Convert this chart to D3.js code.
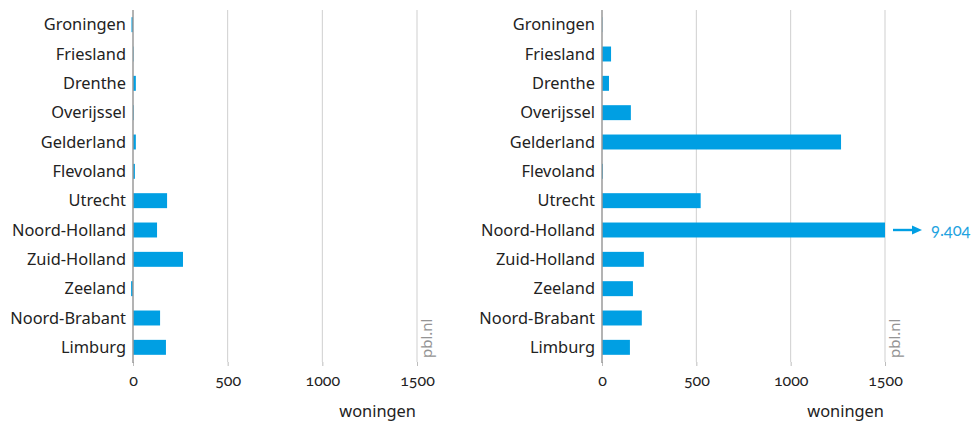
<!DOCTYPE html>
<html>
<head>
<meta charset="utf-8">
<script src="https://cdn.jsdelivr.net/npm/d3@7"></script>
<style>
  html, body { margin: 0; padding: 0; background: #fff; }
  svg { display: block; font-family: "Noto Sans", "Open Sans", sans-serif; }
  .num { font-family: Lato, "Noto Sans", sans-serif; font-variant-numeric: oldstyle-nums; font-feature-settings: "onum" 1; }
</style>
</head>
<body>
<svg id="chart" width="978" height="423"></svg>
<script>
// Provinces, top to bottom
const provinces = ["Groningen", "Friesland", "Drenthe", "Overijssel", "Gelderland", "Flevoland",
  "Utrecht", "Noord-Holland", "Zuid-Holland", "Zeeland", "Noord-Brabant", "Limburg"];

// Number of dwellings per province, left and right panel
const leftValues = [-8, 3, 15, 4, 15, 10, 180, 127, 264, -10, 143, 174];
const rightValues = [2, 48, 37, 153, 1267, 5, 523, 9404, 222, 164, 211, 148];

const tickValues = [0, 500, 1000, 1500];
const axisTitle = "woningen";
const sourceLabel = "pbl.nl";

const barColor = "#009fe3";
const plotTop = 10, plotBottom = 362;

const svg = d3.select("#chart");
const fmt = d3.formatLocale({ decimal: ",", thousands: ".", grouping: [3], currency: ["€", ""] }).format(",d");

const y = d3.scaleBand()
  .domain(provinces)
  .range([plotTop, plotBottom])
  .paddingInner(0.49)
  .paddingOuter(0.245);

function panel(x0, x1, values) {
  const x = d3.scaleLinear().domain([0, 1500]).range([x0, x1]);
  const g = svg.append("g");

  // gridlines
  g.selectAll("line.grid")
    .data(tickValues.filter(d => d > 0))
    .join("line")
    .attr("x1", d => x(d)).attr("x2", d => x(d))
    .attr("y1", plotTop).attr("y2", plotBottom)
    .attr("stroke", "#cfcfcf").attr("stroke-width", 1);

  // tick axis below the plot
  const ax = g.append("g")
    .attr("transform", `translate(0,${plotBottom})`)
    .call(d3.axisBottom(x).tickValues(tickValues).tickSize(4).tickPadding(9).tickFormat(d3.format("d")));
  ax.select(".domain").remove();
  ax.selectAll(".tick line").attr("stroke", "#bdbdbd");
  ax.selectAll(".tick text")
    .attr("class", "num")
    .attr("fill", "#222")
    .attr("font-size", 16)
    .attr("font-family", null);

  // bars, clipped at the end of the scale
  const xMax = x.domain()[1];
  g.selectAll("rect.bar")
    .data(values.map((v, i) => ({ p: provinces[i], v })))
    .join("rect")
    .attr("x", d => x(Math.min(0, d.v)))
    .attr("y", d => y(d.p))
    .attr("width", d => Math.abs(x(Math.min(d.v, xMax)) - x(0)))
    .attr("height", y.bandwidth())
    .attr("fill", barColor);

  // zero axis
  g.append("line")
    .attr("x1", x(0)).attr("x2", x(0))
    .attr("y1", plotTop).attr("y2", plotBottom + 1)
    .attr("stroke", "#9a9a9a").attr("stroke-width", 1.5);

  // category labels
  g.selectAll("text.cat")
    .data(provinces)
    .join("text")
    .attr("x", x(0) - 7)
    .attr("y", d => y(d) + y.bandwidth() / 2)
    .attr("dy", "0.35em")
    .attr("text-anchor", "end")
    .attr("font-size", 16.4)
    .attr("fill", "#222")
    .text(d => d);

  // axis title
  g.append("text")
    .attr("x", x(1500) - 1)
    .attr("y", 417)
    .attr("text-anchor", "end")
    .attr("font-size", 16.4)
    .attr("fill", "#222")
    .text(axisTitle);

  // source mark
  g.append("text")
    .attr("transform", `translate(${x(1500) + 15},${plotBottom - 4}) rotate(-90)`)
    .attr("font-size", 15)
    .attr("fill", "#949494")
    .text(sourceLabel);

  // overflow indicators for values beyond the scale
  values.forEach((v, i) => {
    if (v > xMax) {
      const cy = y(provinces[i]) + y.bandwidth() / 2;
      const ax0 = x(xMax) + 8, ax1 = x(xMax) + 37;
      g.append("line")
        .attr("x1", ax0).attr("x2", ax1 - 8)
        .attr("y1", cy).attr("y2", cy)
        .attr("stroke", barColor).attr("stroke-width", 2.4);
      g.append("path")
        .attr("d", `M${ax1 - 10},${cy - 4.5} L${ax1},${cy} L${ax1 - 10},${cy + 4.5} Z`)
        .attr("fill", barColor);
      g.append("text")
        .attr("class", "num")
        .attr("x", ax1 + 9)
        .attr("y", cy)
        .attr("dy", "0.35em")
        .attr("font-size", 16.5)
        .attr("fill", "#1fa3e0")
        .text(fmt(v));
    }
  });
}

panel(133, 417, leftValues);
panel(602, 885, rightValues);
</script>
</body>
</html>
